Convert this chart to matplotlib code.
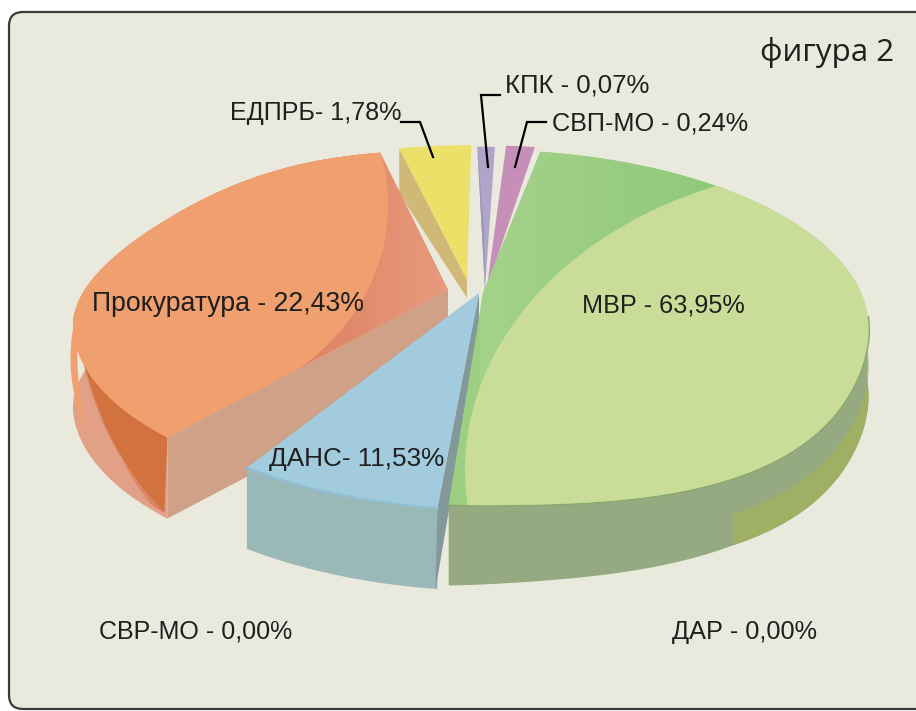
import numpy as np
import matplotlib
matplotlib.use("Agg")
import matplotlib.pyplot as plt
from matplotlib.colors import LinearSegmentedColormap
from matplotlib.patches import Polygon, Ellipse, FancyBboxPatch, PathPatch
from matplotlib.path import Path

# ---- data ----
categories = ["МВР", "ДАНС", "Прокуратура", "ЕДПРБ", "КПК", "СВП-МО", "ДАР", "СВР-МО"]
percent = [63.95, 11.53, 22.43, 1.78, 0.07, 0.24, 0.00, 0.00]
joiners = [" - ", "- ", " - ", "- ", " - ", " - ", " - ", " - "]
# the drawing does not follow the percentages: sweep of each slice as drawn (degrees)
drawn_sweep = [173.8, 26.0, 126.7, 13.9, 3.2, 5.3]

# ---- style and layout ----
W, H = 916, 711
A, B, K = 378, 171, 0.194
DEPTH = 81
starts = [-79.6, 95.0, 130.7, 256.9, -91.4 + 360, -86.5 + 360]
apex = [(483, 293), (479, 293), (448, 290), (467, 280), (485, 290), (487, 287)]
radii = [1.0, 1.0, 0.975, 0.93, 1.0, 0.985]
top_col = ["#9ccf82", "#a2cbde", "#f0a06e", "#ebe068", "#aea5c8", "#c68fb8"]
font = ["Liberation Sans", "DejaVu Sans"]
ink = "#1f1f1f"
label_size = [18.2, 18.8, 19.2, 18.05, 18.5, 18.2, 18.2, 18.0]

fig = plt.figure(figsize=(W / 100, H / 100), dpi=100, facecolor="white")
ax = fig.add_axes([0, 0, 1, 1])

ax.add_patch(FancyBboxPatch((9, 12), W + 40, H - 14, boxstyle="round,pad=0,rounding_size=14",
                            fc="#e9e9dd", ec="#3a3a3a", lw=1.6, zorder=0))


def rim(i, t0, t1, n=240):
    deg = np.linspace(t0, t1, n)
    t = np.radians(deg)
    r = radii[i] * np.ones(n)
    if i == 0:  # the large slice bulges towards the viewer at lower right
        r = r + 0.085 * np.where((deg > 0) & (deg < 90), np.sin(2 * t) ** 2 * np.sin(t) ** 2, 0)
    elif i == 1:  # slightly longer at its right corner
        r = r + 0.015 - 0.02 * (deg - starts[1]) / drawn_sweep[1]
    elif i == 2:  # flatter at upper left
        r = r - 0.05 * np.where((deg > 165) & (deg < 250),
                                np.sin(np.pi * (deg - 165) / 85) ** 2, 0)
    x, y = r * np.cos(t), r * np.sin(t)
    w = 1 - K * y
    return np.column_stack([apex[i][0] + A * x / w, apex[i][1] + B * y / w])


def poly(pts, color, z, **kw):
    p = Polygon(pts, closed=True, fc=color, ec="none", lw=0, zorder=z, **kw)
    ax.add_patch(p)
    return p


def top(i, z, color=None):
    r = rim(i, starts[i], starts[i] + drawn_sweep[i])
    return poly(np.vstack([apex[i], r]), color or top_col[i], z)


def arc_wall(i, t0, t1, color, z, d0=0, d1=DEPTH, taper=0):
    r = rim(i, t0, t1)
    d = d1 - taper * np.clip((r[:, 0] - r[:, 0].min()) / 284, 0, 1)
    lower = r + np.column_stack([np.zeros(len(r)), d])
    return poly(np.vstack([r + [0, d0], lower[::-1]]), color, z)


def overlay(center, rx, ry, color, clip, z):
    e = Ellipse(center, 2 * rx, 2 * ry, fc=color, ec="none", zorder=z)
    ax.add_patch(e)
    e.set_clip_path(clip)
    return e


def h_gradient(c0, c1, x0, x1, clip, z):
    cm = LinearSegmentedColormap.from_list("g", [c0, c1])
    im = ax.imshow(np.linspace(0, 1, 128)[None, :], cmap=cm, extent=(x0, x1, 700, 0),
                   aspect="auto", zorder=z, interpolation="bilinear")
    im.set_clip_path(clip)
    return im


MVR, DANS, PROK, YEL, KPK, SVP = range(6)

# small slices, at the back
c = rim(YEL, starts[YEL], starts[YEL])[0]
poly([apex[YEL], c, c + [0, 45], np.array(apex[YEL]) + [0, 18]], "#d1b877", 2)
top(YEL, 3)
top(KPK, 3)
poly([apex[KPK], rim(KPK, starts[KPK], starts[KPK])[0], np.array(apex[KPK]) + [-1, -60]], "#9b96b4", 4)
top(SVP, 3)

# Prokuratura
t0 = starts[PROK]
arc_wall(PROK, t0, 205, "#e2a186", 5)
corner = rim(PROK, t0, t0)[0]
left = np.array([77, 332])
foot = corner + [-3, 75]
# orange sliver at the far left, red tip and darker part of the curved wall
ax.add_patch(PathPatch(Path([(75, 318), (62, 375), (86, 432), (76, 385), left],
                            [Path.MOVETO, Path.CURVE3, Path.CURVE3, Path.CURVE3, Path.CURVE3]),
                       fc="#f0a06e", ec="none", zorder=5.5))
ax.add_patch(PathPatch(Path([left, (95, 445), foot, (120, 490), left],
                            [Path.MOVETO, Path.CURVE3, Path.CURVE3, Path.CURVE3, Path.CURVE3]),
                       fc="#dc8468", ec="none", zorder=5.7))
ax.add_patch(PathPatch(Path([left, (100, 450), foot, corner, left],
                            [Path.MOVETO, Path.CURVE3, Path.CURVE3, Path.LINETO, Path.LINETO]),
                       fc="#d2733f", ec="none", zorder=5.8))
poly([foot, corner + [-28, 57], corner + [-14, 68]], "#dd6248", 5.9)
poly([apex[PROK], corner, corner + [0, DEPTH], np.array(apex[PROK]) + [0, DEPTH]], "#cfa186", 7)
prok_top = top(PROK, 8, "#e3937a")
h_gradient("#dc7f5e", "#e89a7e", 285, 450, prok_top, 8.5)
overlay((150, 205), 238, 210, "#f0a06e", prok_top, 9)
fill = poly([(50, 205), (150, 415), (290, 375), (170, 450), (50, 450)], "#f0a06e", 9)
fill.set_clip_path(prok_top)

# DANS
dt1 = starts[DANS] + drawn_sweep[DANS]
arc_wall(DANS, starts[DANS], dt1, "#9ab8b7", 10)
c = rim(DANS, starts[DANS], starts[DANS])[0]
poly([apex[DANS], c, c + [-2, 82], np.array(apex[DANS]) + [0, 40]], "#82989a", 11)
top(DANS, 12)
ax.plot(*rim(DANS, starts[DANS], dt1).T, color="#8fc0d6", lw=1.6, zorder=13)

# MVR
mt0 = starts[MVR]
mt1 = mt0 + drawn_sweep[MVR]
arc_wall(MVR, 8, mt1, "#96aa82", 14, taper=14)
olive = arc_wall(MVR, 8, mt1, "#9fb064", 15, d0=36, taper=14)
band = plt.Rectangle((733, 300), 200, 300, fc="none", ec="none", transform=ax.transData)
ax.add_patch(band)
olive.set_clip_path(band)
mvr_top = top(MVR, 16)
h_gradient("#a4d28a", "#8fc97a", 480, 725, mvr_top, 16.5)
overlay((860, 470), 395, 305, "#cadd98", mvr_top, 17)
ax.plot(*rim(MVR, 8, mt1).T, color="#8aa86e", lw=2.2, zorder=15.5)


def label(i, x, y):
    txt = f"{categories[i]}{joiners[i]}{percent[i]:.2f}".replace(".", ",") + "%"
    ax.text(x, y, txt, family=font, fontsize=label_size[i], color=ink, va="center", ha="left", zorder=30)


label(0, 582, 306)
label(1, 269, 459)
label(2, 92, 304)
label(3, 230, 113)
label(4, 505, 86)
label(5, 552, 123)
label(6, 672, 632)
label(7, 99, 632)
ax.text(760, 53, "фигура 2", family=["Open Sans", "DejaVu Sans"], fontsize=22.6, color=ink,
        va="center", ha="left", zorder=30)

for xs, ys in [((401, 420, 433), (122, 122, 157)),
               ((500, 481, 488), (95, 95, 167)),
               ((546, 527, 515), (122, 122, 167))]:
    ax.plot(xs, ys, color="black", lw=1.6, zorder=29, solid_joinstyle="miter")

ax.set_xlim(0, W)
ax.set_ylim(H, 0)
ax.axis("off")
fig.savefig("out.png", dpi=100, facecolor="white")
